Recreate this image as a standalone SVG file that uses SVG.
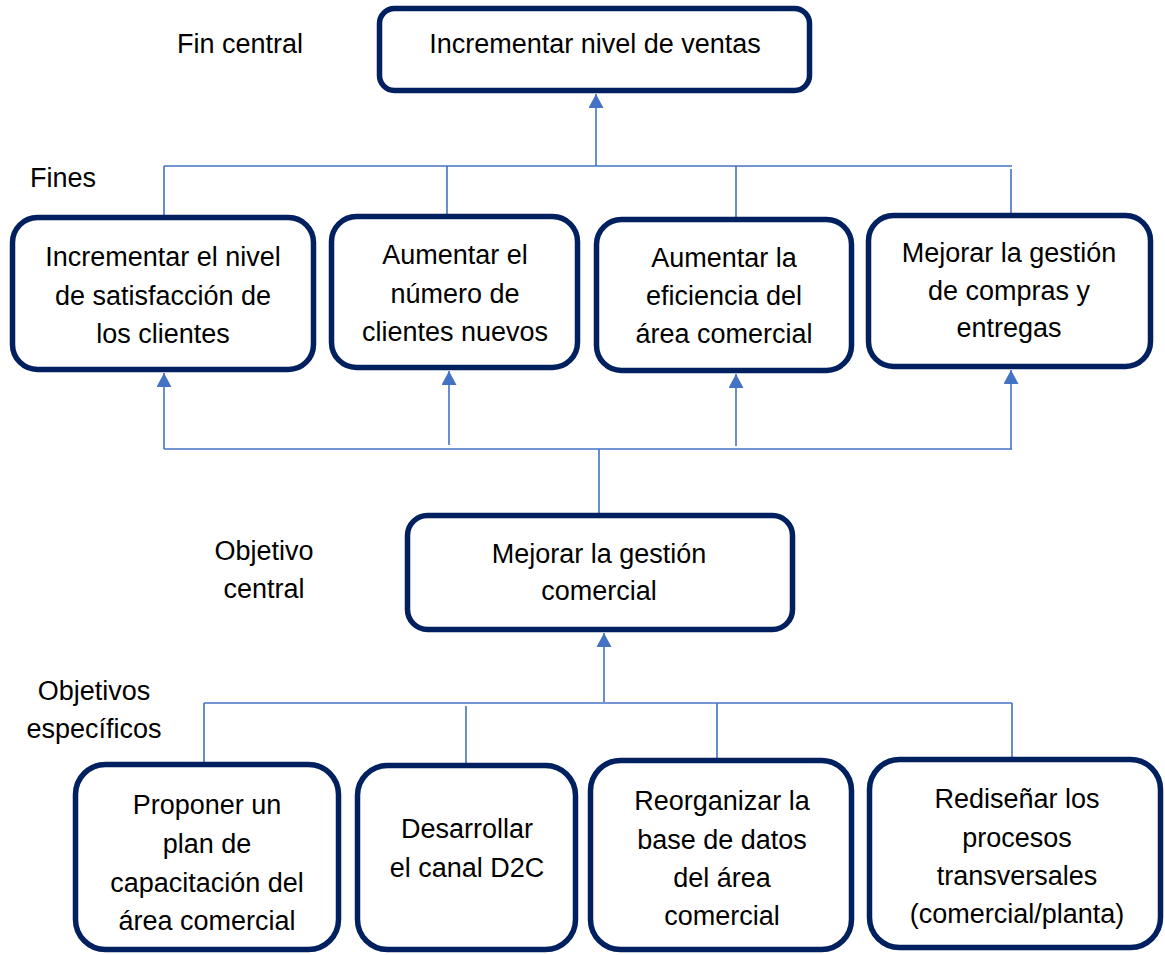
<svg xmlns="http://www.w3.org/2000/svg" width="1165" height="955" viewBox="0 0 1165 955">
  <style>
    .box { fill: #ffffff; stroke: #002060; stroke-width: 5.5; }
    .txt { font-family: "Liberation Sans", Arial, sans-serif; font-size: 27px; fill: #000000; text-anchor: middle; }
    .lbl { font-family: "Liberation Sans", Arial, sans-serif; font-size: 27px; fill: #000000; text-anchor: middle; }
    .con { fill: none; stroke: #4472C4; stroke-width: 1.6; }
    .arr { fill: none; stroke: #4472C4; stroke-width: 1.6; marker-end: url(#tip); }
  </style>
  <defs>
    <marker id="tip" markerUnits="userSpaceOnUse" markerWidth="15" markerHeight="15" refX="14" refY="7.5" orient="auto">
      <path d="M0,0 L14,7.5 L0,15 Z" fill="#4472C4"/>
    </marker>
  </defs>

  <rect width="1165" height="955" fill="#ffffff"/>

  <!-- level labels -->
  <g id="labels">
    <text class="lbl" x="240" y="53">Fin central</text>
    <text class="lbl" x="30" y="187" style="text-anchor:start">Fines</text>
    <text class="lbl" x="264" y="560">Objetivo</text>
    <text class="lbl" x="264" y="598">central</text>
    <text class="lbl" x="94" y="700">Objetivos</text>
    <text class="lbl" x="94" y="738">específicos</text>
  </g>

  <!-- connectors -->
  <g id="connectors">
    <!-- ends up to central end -->
    <path class="arr" d="M596,166 V94"/>
    <path class="con" d="M164,166 H1012"/>
    <path class="con" d="M164,166 V215 M447,166 V214 M736,166 V217 M1011,169 V213"/>
    <!-- central objective up to ends -->
    <path class="con" d="M164,449 H1012"/>
    <path class="arr" d="M164,449 V373"/>
    <path class="arr" d="M449,445 V371"/>
    <path class="arr" d="M736,446 V374"/>
    <path class="arr" d="M1011,449 V370"/>
    <path class="con" d="M599,449 V513"/>
    <!-- specific objectives up to central objective -->
    <path class="arr" d="M604,702 V633"/>
    <path class="con" d="M204,703 H1012"/>
    <path class="con" d="M204,703 V762 M466,706 V763 M717,703 V758 M1012,703 V757"/>
  </g>

  <g id="fin-central">
    <rect class="box" x="379.5" y="8.5" width="430" height="82" rx="15"/>
    <text class="txt" x="595" y="53">Incrementar nivel de ventas</text>
  </g>

  <g id="fin-1">
    <rect class="box" x="12.5" y="217.5" width="301" height="152" rx="25"/>
    <text class="txt" x="163" y="266">Incrementar el nivel</text>
    <text class="txt" x="163" y="305">de satisfacción de</text>
    <text class="txt" x="163" y="343">los clientes</text>
  </g>

  <g id="fin-2">
    <rect class="box" x="331.5" y="216.5" width="246" height="151" rx="25"/>
    <text class="txt" x="455" y="264">Aumentar el</text>
    <text class="txt" x="455" y="303">número de</text>
    <text class="txt" x="455" y="341">clientes nuevos</text>
  </g>

  <g id="fin-3">
    <rect class="box" x="596.5" y="219.5" width="255" height="151" rx="25"/>
    <text class="txt" x="724" y="267">Aumentar la</text>
    <text class="txt" x="724" y="305">eficiencia del</text>
    <text class="txt" x="724" y="343">área comercial</text>
  </g>

  <g id="fin-4">
    <rect class="box" x="868.5" y="215.5" width="282" height="151" rx="25"/>
    <text class="txt" x="1009" y="262">Mejorar la gestión</text>
    <text class="txt" x="1009" y="300">de compras y</text>
    <text class="txt" x="1009" y="337">entregas</text>
  </g>

  <g id="objetivo-central">
    <rect class="box" x="407.5" y="515.5" width="385" height="114" rx="20"/>
    <text class="txt" x="599" y="563">Mejorar la gestión</text>
    <text class="txt" x="599" y="600">comercial</text>
  </g>

  <g id="objetivo-1">
    <rect class="box" x="75.5" y="764.5" width="263" height="185" rx="30"/>
    <text class="txt" x="207" y="814">Proponer un</text>
    <text class="txt" x="207" y="853">plan de</text>
    <text class="txt" x="207" y="892">capacitación del</text>
    <text class="txt" x="207" y="930">área comercial</text>
  </g>

  <g id="objetivo-2">
    <rect class="box" x="357.5" y="765.5" width="218" height="184" rx="30"/>
    <text class="txt" x="467" y="838">Desarrollar</text>
    <text class="txt" x="467" y="877">el canal D2C</text>
  </g>

  <g id="objetivo-3">
    <rect class="box" x="590.5" y="760.5" width="261" height="189" rx="30"/>
    <text class="txt" x="722" y="810">Reorganizar la</text>
    <text class="txt" x="722" y="849">base de datos</text>
    <text class="txt" x="722" y="887">del área</text>
    <text class="txt" x="722" y="925">comercial</text>
  </g>

  <g id="objetivo-4">
    <rect class="box" x="869.5" y="759.5" width="291" height="188" rx="30"/>
    <text class="txt" x="1017" y="808">Rediseñar los</text>
    <text class="txt" x="1017" y="847">procesos</text>
    <text class="txt" x="1017" y="885">transversales</text>
    <text class="txt" x="1017" y="923">(comercial/planta)</text>
  </g>
</svg>
